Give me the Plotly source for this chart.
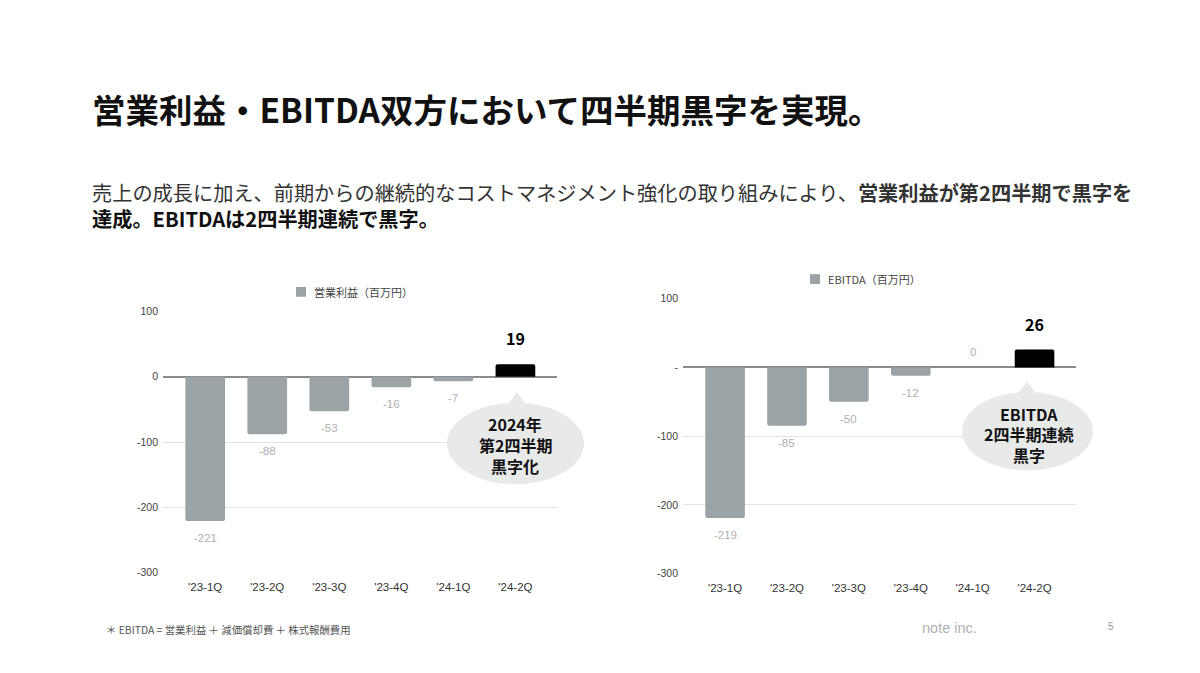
import plotly.graph_objects as go

# data (百万円)
quarters = ["'23-1Q", "'23-2Q", "'23-3Q", "'23-4Q", "'24-1Q", "'24-2Q"]
op_income = [-221, -88, -53, -16, -7, 19]
ebitda = [-219, -85, -50, -12, 0, 26]

left_ticks = [-300, -200, -100, 0, 100]
left_ticktext = ["-300", "-200", "-100", "0", "100"]
right_ticktext = ["-300", "-200", "-100", "-", "100"]

bubble_left = ["2024年", "第2四半期", "黒字化"]
bubble_right = ["EBITDA", "2四半期連続", "黒字"]

# page body has an 8px margin on every side, so the figure is made smaller to fit the window
OFF = 8
W, H = 1200 - 2 * OFF, 673 - 2 * OFF
JP = "Noto Sans CJK JP"
SANS = "Liberation Sans"
GRAY_BAR = "#9ca3a7"
BUBBLE = "#e8eaea"


def px(x):
    return (x - OFF) / W


def py(y):
    return 1 - (y - OFF) / H


fig = go.Figure()

charts = [
    (op_income, "x", "y"),
    (ebitda, "x2", "y2"),
]

annotations = []
for vals, xa, ya in charts:
    colors = [GRAY_BAR] * (len(vals) - 1) + ["#000000"]
    fig.add_trace(go.Bar(
        x=quarters, y=vals, xaxis=xa, yaxis=ya,
        marker=dict(color=colors, line=dict(width=0), cornerradius=2),
        width=0.64, showlegend=False, hoverinfo="x+y",
    ))
    # value labels
    for i, (q, v) in enumerate(zip(quarters, vals)):
        last = i == len(vals) - 1
        if last:
            annotations.append(dict(
                x=q, y=v, xref=xa, yref=ya, text="<b>%d</b>" % v, showarrow=False,
                yshift=26, font=dict(family=JP, size=16, color="#000000")))
        else:
            annotations.append(dict(
                x=q, y=v, xref=xa, yref=ya, text=str(v), showarrow=False,
                yshift=15 if v >= 0 else -17,
                font=dict(family=SANS, size=11.5, color="#b0b0b0")))

axis_x = dict(type="category", showgrid=False, showline=False, zeroline=False,
              ticks="", tickfont=dict(family=SANS, size=11.5, color="#333333"),
              ticklabelstandoff=6, range=[-0.68, 5.67], fixedrange=True)
axis_y = dict(range=[-300, 100], tickvals=left_ticks, showgrid=True,
              gridcolor="#e3e3e3", gridwidth=1, zeroline=True,
              zerolinecolor="#8a8a8a", zerolinewidth=2, showline=False,
              ticks="", tickfont=dict(family=SANS, size=10.5, color="#444444"),
              ticklabelstandoff=4, fixedrange=True)

fig.update_layout(
    width=W, height=H,
    margin=dict(l=0, r=0, t=0, b=0),
    paper_bgcolor="white", plot_bgcolor="white",
    xaxis=dict(axis_x, domain=[px(163), px(557)], anchor="y"),
    yaxis=dict(axis_y, domain=[py(577), py(311)], ticktext=left_ticktext, anchor="x"),
    xaxis2=dict(axis_x, domain=[px(683), px(1076)], anchor="y2"),
    yaxis2=dict(axis_y, domain=[py(578), py(298)], ticktext=right_ticktext, anchor="x2"),
)

shapes = []
# legends
for sx, sy, tx, name in [(296, 291, 312, "営業利益（百万円）"), (810, 278, 826, "EBITDA（百万円）")]:
    shapes.append(dict(type="rect", xref="paper", yref="paper",
                       x0=px(sx), x1=px(sx + 10), y0=py(sy + 5), y1=py(sy - 5),
                       fillcolor=GRAY_BAR, line=dict(width=0)))
    annotations.append(dict(x=px(tx), y=py(sy), xref="paper", yref="paper",
                            xanchor="left", yanchor="middle", text=name, showarrow=False,
                            font=dict(family=JP, size=11, color="#444444")))


# speech bubbles
def bubble(x0, x1, y0, y1, tipx, tipy, lines, cx, cy):
    shapes.append(dict(type="circle", xref="paper", yref="paper",
                       x0=px(x0), x1=px(x1), y0=py(y1), y1=py(y0),
                       fillcolor=BUBBLE, line=dict(width=0), layer="above"))
    path = "M %f,%f L %f,%f L %f,%f Z" % (
        px(tipx - 18), py(y0 + 14), px(tipx), py(tipy), px(tipx + 18), py(y0 + 14))
    shapes.append(dict(type="path", xref="paper", yref="paper", path=path,
                       fillcolor=BUBBLE, line=dict(width=0), layer="above"))
    for k, line in enumerate(lines):
        annotations.append(dict(x=px(cx), y=py(cy + (k - 1) * 21), xref="paper", yref="paper",
                                xanchor="center", yanchor="middle",
                                text="<b>%s</b>" % line, showarrow=False,
                                font=dict(family=JP, size=16, color="#111111")))


bubble(447, 584, 404, 487, 517, 393, bubble_left, 515, 447)
bubble(962, 1093, 393, 473, 1027, 382, bubble_right, 1029, 436)

# title and texts
annotations += [
    dict(x=px(90), y=py(104), xref="paper", yref="paper", xanchor="left", yanchor="middle",
         text="<b>営業利益・EBITDA双方において四半期黒字を実現。</b>", showarrow=False,
         font=dict(family=JP, size=33.5, color="#111111")),
    dict(x=px(90), y=py(190), xref="paper", yref="paper", xanchor="left", yanchor="middle",
         text="売上の成長に加え、前期からの継続的なコストマネジメント強化の取り組みにより、"
              "<b>営業利益が第2四半期で黒字を</b>", showarrow=False,
         font=dict(family=JP, size=20.2, color="#333333")),
    dict(x=px(90), y=py(216), xref="paper", yref="paper", xanchor="left", yanchor="middle",
         text="<b>達成。EBITDAは2四半期連続で黒字。</b>", showarrow=False,
         font=dict(family=JP, size=20.2, color="#111111")),
    dict(x=px(104), y=py(635), xref="paper", yref="paper", xanchor="left", yanchor="middle",
         text="＊ EBITDA = 営業利益 ＋ 減価償却費 ＋ 株式報酬費用", showarrow=False,
         font=dict(family=JP, size=10.4, color="#555555")),
    dict(x=px(949), y=py(633), xref="paper", yref="paper", xanchor="center", yanchor="middle",
         text="note inc.", showarrow=False,
         font=dict(family=SANS, size=14.5, color="#b0b0b0")),
    dict(x=px(1111), y=py(632), xref="paper", yref="paper", xanchor="center", yanchor="middle",
         text="5", showarrow=False,
         font=dict(family=SANS, size=10, color="#9a9a9a")),
]

fig.update_layout(shapes=shapes, annotations=annotations)

fig.write_html("out.html")
